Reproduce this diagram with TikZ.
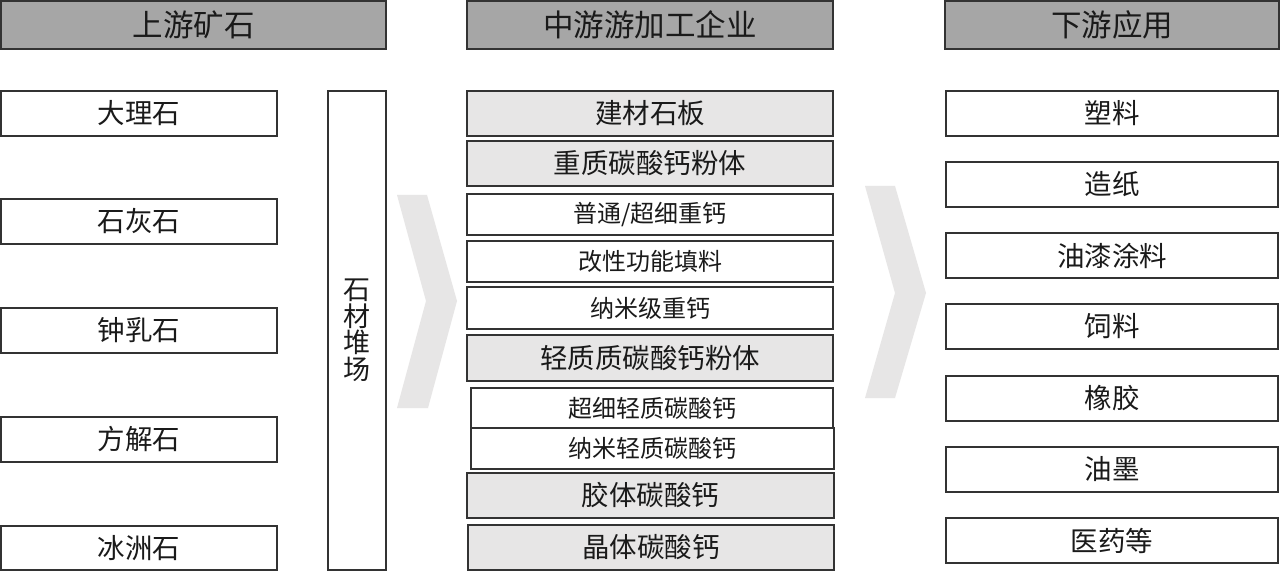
\documentclass[tikz,border=0pt]{standalone}
\usepackage{fontspec}
\newfontfamily\cjk{Noto Sans CJK SC}
\definecolor{hdrgrey}{HTML}{A6A6A6}
\definecolor{boxgrey}{HTML}{E7E6E6}
\definecolor{chevgrey}{HTML}{E7E6E6}
\definecolor{edgec}{HTML}{333333}
\definecolor{txtc}{HTML}{1A1A1A}
\newcommand\bx[7]{%
  \node[#6, minimum width={(#4-#2)*1pt}, minimum height={(#5-#3)*1pt}]
    (#1) at ({(#2+#4)/2},{(#3+#5)/2}) {#7};}
\tikzset{
  base/.style={draw=edgec, line width=1.1pt, rectangle, inner sep=0pt, outer sep=0pt, text=txtc, font=\cjk\fontsize{27.5}{30}\selectfont},
  hdr/.style={base, fill=hdrgrey, font=\cjk\fontsize{30.5}{33}\selectfont},
  wbox/.style={base, fill=white},
  gbox/.style={base, fill=boxgrey},
  sbox/.style={base, fill=white, font=\cjk\fontsize{24}{26}\selectfont},
  chev/.style={fill=chevgrey, draw=none}
}
\begin{document}
\begin{tikzpicture}[x=1pt,y=-1pt]
\useasboundingbox (0,0) rectangle (1280,572);
\fill[white] (0,0) rectangle (1280,572);
% chevrons
\fill[chev] (397,195) -- (427,195) -- (457,301) -- (428,408) -- (397,408) -- (426,301) -- cycle;
\fill[chev] (865,186) -- (895,186) -- (926,293) -- (895,398) -- (865,398) -- (895,293) -- cycle;
% headers
\bx{h1}{1}{1}{386}{49}{hdr}{上游矿石}
\bx{h2}{467}{1}{833}{49}{hdr}{中游游加工企业}
\bx{h3}{945}{1}{1279}{49}{hdr}{下游应用}
% left column
\bx{l1}{1}{91}{277}{136}{wbox}{大理石}
\bx{l2}{1}{199}{277}{244}{wbox}{石灰石}
\bx{l3}{1}{308}{277}{353}{wbox}{钟乳石}
\bx{l4}{1}{417}{277}{462}{wbox}{方解石}
\bx{l5}{1}{526}{277}{570}{wbox}{冰洲石}
% stockpile
\bx{st}{328}{91}{386}{570}{wbox}{}
\node[text=txtc, font=\cjk\fontsize{27}{26.5}\selectfont, align=center, inner sep=0pt] (stt) at (st.center) {石\\材\\堆\\场};
% middle column
\bx{m1}{467}{91}{833}{136}{gbox}{建材石板}
\bx{m2}{467}{141}{833}{186}{gbox}{重质碳酸钙粉体}
\bx{m3}{467}{194}{833}{235}{sbox}{普通/超细重钙}
\bx{m4}{467}{241}{833}{282}{sbox}{改性功能填料}
\bx{m5}{467}{287}{833}{329}{sbox}{纳米级重钙}
\bx{m6}{467}{335}{833}{381}{gbox}{轻质质碳酸钙粉体}
\bx{m7}{471}{388}{833}{428}{sbox}{超细轻质碳酸钙}
\bx{m8}{471}{428}{834}{469}{sbox}{纳米轻质碳酸钙}
\bx{m9}{467}{473}{834}{518}{gbox}{胶体碳酸钙}
\bx{m10}{468}{525}{834}{570}{gbox}{晶体碳酸钙}
% right column
\bx{r1}{946}{91}{1278}{136}{wbox}{塑料}
\bx{r2}{946}{162}{1278}{207}{wbox}{造纸}
\bx{r3}{946}{233}{1278}{278}{wbox}{油漆涂料}
\bx{r4}{946}{304}{1278}{349}{wbox}{饲料}
\bx{r5}{946}{376}{1278}{421}{wbox}{橡胶}
\bx{r6}{946}{447}{1278}{492}{wbox}{油墨}
\bx{r7}{946}{518}{1278}{563}{wbox}{医药等}
\end{tikzpicture}
\end{document}
